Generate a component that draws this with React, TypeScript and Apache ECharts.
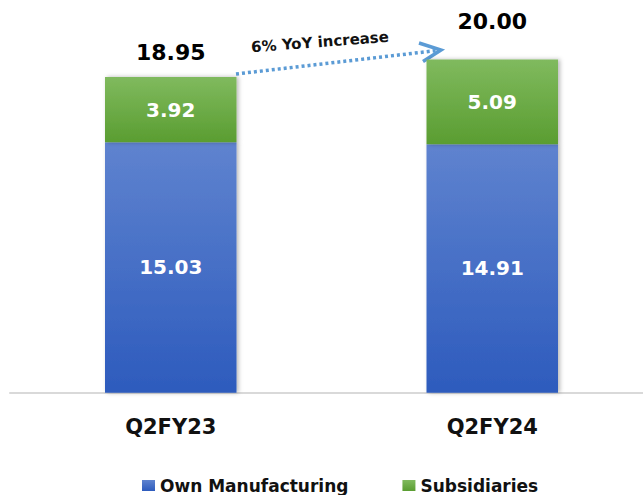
import React, { useEffect, useRef } from "react";
import * as echarts from "echarts";

const categories = ["Q2FY23", "Q2FY24"];
const ownManufacturing = [15.03, 14.91];
const subsidiaries = [3.92, 5.09];
const totals = [18.95, 20.0];
const totalLabelDistance = [13, 27];
const annotationText = "6% YoY increase";

const FONT = "DejaVu Sans";

export default function App() {
  const ref = useRef<HTMLDivElement>(null);
  useEffect(() => {
    if (!ref.current) return;
    const chart = echarts.init(ref.current, null, { renderer: "svg" });
    const shadow = {
      shadowBlur: 4,
      shadowColor: "rgba(0,0,0,0.28)",
      shadowOffsetX: 2,
      shadowOffsetY: 0,
    };
    chart.setOption({
      animation: false,
      backgroundColor: "#ffffff",
      grid: { left: 10, right: -10, top: 59.4, bottom: 102.3, outerBoundsMode: "none", containLabel: false },
      legend: {
        data: ["Own Manufacturing", "Subsidiaries"],
        left: 142,
        top: 477,
        padding: 0,
        icon: "rect",
        itemWidth: 13,
        itemHeight: 11,
        itemGap: 54,
        textStyle: { fontFamily: FONT, fontWeight: "bold", fontSize: 17, color: "#111" },
      },
      xAxis: {
        type: "category",
        data: categories,
        axisLine: { show: true, lineStyle: { color: "#d9d9d9", width: 2 } },
        axisTick: { show: false },
        axisLabel: {
          margin: 24,
          fontFamily: FONT,
          fontWeight: "bold",
          fontSize: 21,
          color: "#111",
        },
      },
      yAxis: {
        type: "value",
        min: 0,
        max: 20,
        show: false,
        splitLine: { show: false },
      },
      series: [
        {
          name: "Own Manufacturing",
          type: "bar",
          stack: "total",
          barWidth: 131.5,
          data: ownManufacturing,
          itemStyle: {
            color: new echarts.graphic.LinearGradient(0, 0, 0, 1, [
              { offset: 0, color: "#5f83cf" },
              { offset: 1, color: "#2d5bbd" },
            ]),
            ...shadow,
          },
          label: {
            show: true,
            position: "inside",
            color: "#ffffff",
            fontFamily: FONT,
            fontWeight: "bold",
            fontSize: 20,
            formatter: (p: any) => p.value.toFixed(2),
          },
        },
        {
          name: "Subsidiaries",
          type: "bar",
          stack: "total",
          barWidth: 131.5,
          data: subsidiaries,
          itemStyle: {
            color: new echarts.graphic.LinearGradient(0, 0, 0, 1, [
              { offset: 0, color: "#80ba5e" },
              { offset: 1, color: "#5a9d31" },
            ]),
            ...shadow,
          },
          label: {
            show: true,
            position: "inside",
            color: "#ffffff",
            fontFamily: FONT,
            fontWeight: "bold",
            fontSize: 20,
            formatter: (p: any) => p.value.toFixed(2),
          },
        },
        {
          name: "Total",
          type: "bar",
          barWidth: 131.5,
          barGap: "-100%",
          z: 1,
          silent: true,
          data: totals.map((v, i) => ({
            value: v,
            label: { distance: totalLabelDistance[i] },
          })),
          itemStyle: { color: "rgba(0,0,0,0)" },
          label: {
            show: true,
            position: "top",
            color: "#000000",
            fontFamily: FONT,
            fontWeight: "bold",
            fontSize: 22,
            formatter: (p: any) => p.value.toFixed(2),
          },
        },
      ],
      graphic: [
        {
          type: "polyline",
          shape: { points: [[236, 74], [437, 50.5]] },
          style: { stroke: "#5b9bd5", lineWidth: 3.5, lineDash: [3, 3], fill: null },
        },
        {
          type: "polyline",
          shape: { points: [[419, 43], [441, 50], [423, 61.5]] },
          style: { stroke: "#5b9bd5", lineWidth: 3.5, fill: null },
        },
        {
          type: "text",
          x: 320,
          y: 42,
          rotation: 0.075,
          style: {
            text: annotationText,
            fontFamily: FONT,
            fontWeight: "bold",
            fontSize: 15,
            fill: "#111",
            align: "center",
            verticalAlign: "middle",
          },
        },
      ],
    });
    return () => chart.dispose();
  }, []);
  return (
    <div
      ref={ref}
      style={{ position: "absolute", left: 0, top: 0, width: 643, height: 495 }}
    />
  );
}
